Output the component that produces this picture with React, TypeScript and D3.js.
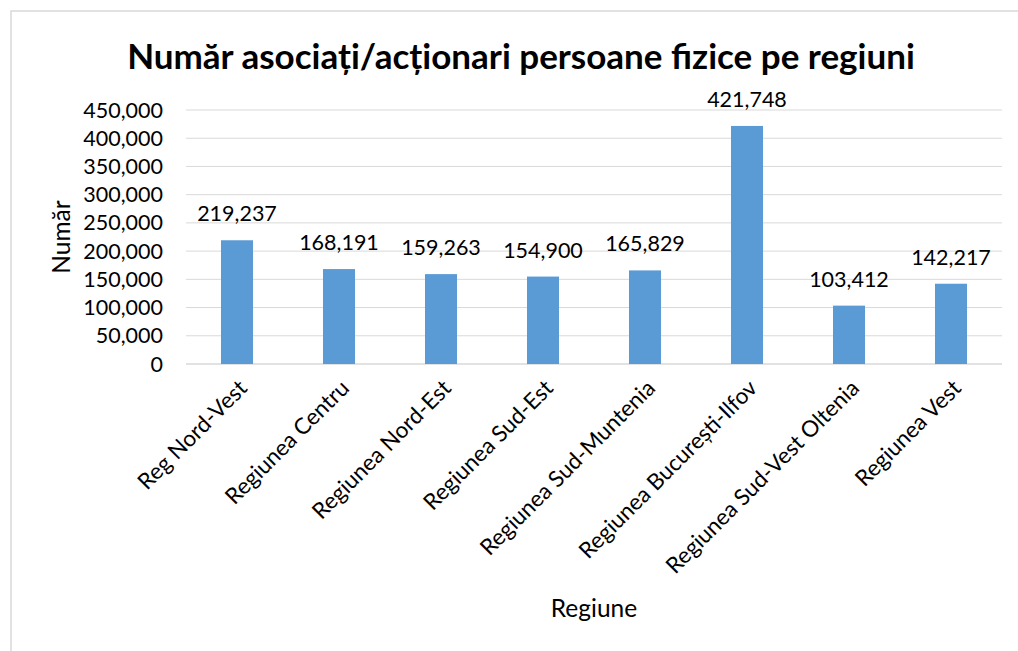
import React from 'react';
import * as d3 from 'd3';

const categories = [
  'Reg Nord-Vest',
  'Regiunea Centru',
  'Regiunea Nord-Est',
  'Regiunea Sud-Est',
  'Regiunea Sud-Muntenia',
  'Regiunea București-Ilfov',
  'Regiunea Sud-Vest Oltenia',
  'Regiunea Vest',
];
const values = [219237, 168191, 159263, 154900, 165829, 421748, 103412, 142217];
const yTicks = [0, 50000, 100000, 150000, 200000, 250000, 300000, 350000, 400000, 450000];
const title = 'Număr asociați/acționari persoane fizice pe regiuni';
const yTitle = 'Număr';
const xTitle = 'Regiune';

const W = 1018;
const H = 651;
const FONT = 'Lato, "Open Sans", sans-serif';

export default function App() {
  const left = 186, right = 1002, top = 110, bottom = 364;
  const x = d3.scaleBand<string>().domain(categories).range([left, right]).paddingInner(0.686).paddingOuter(0.343);
  const y = d3.scaleLinear().domain([0, 450000]).range([bottom, top]);
  const fmt = d3.format(',');
  const grid = '#D9D9D9';
  const fs = 21.5;
  return (
    <svg width={W} height={H} style={{ position: 'absolute', left: 0, top: 0, background: '#fff' }} fontFamily={FONT}>
      <rect x={11} y={11} width={W + 20} height={H + 20} fill="#fff" stroke={grid} strokeWidth={1.5} />
      <text x={521} y={69} textAnchor="middle" fontSize={35} fontWeight="bold" fill="#000">{title}</text>
      {yTicks.map((t) => (
        <g key={t}>
          <line x1={left} x2={right} y1={y(t)} y2={y(t)} stroke={grid} strokeWidth={t === 0 ? 1.5 : 1} />
          <text x={163} y={y(t)} dy="0.35em" textAnchor="end" fontSize={fs} fill="#000">{fmt(t)}</text>
        </g>
      ))}
      {categories.map((c, i) => {
        const bx = x(c)!;
        const cx = bx + x.bandwidth() / 2;
        return (
          <g key={c}>
            <rect x={bx} y={y(values[i])} width={x.bandwidth()} height={bottom - y(values[i])} fill="#5B9BD5" />
            <text x={cx} y={y(values[i]) - 19} textAnchor="middle" fontSize={fs} fill="#000">{fmt(values[i])}</text>
            <text transform={`translate(${cx + 6},${bottom + 20}) rotate(-45)`} textAnchor="end" dy="0.35em" fontSize={22.5} fill="#000">{c}</text>
          </g>
        );
      })}
      <text transform={`translate(70,${(top + bottom) / 2}) rotate(-90)`} textAnchor="middle" fontSize={24.5} fill="#000">{yTitle}</text>
      <text x={(left + right) / 2} y={617} textAnchor="middle" fontSize={24.5} fill="#000">{xTitle}</text>
    </svg>
  );
}
